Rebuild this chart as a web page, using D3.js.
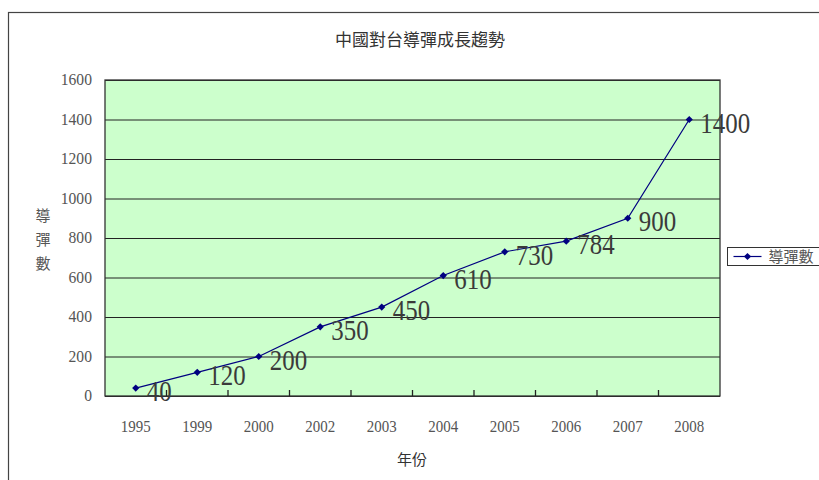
<!DOCTYPE html>
<html>
<head>
<meta charset="utf-8">
<script src="https://cdn.jsdelivr.net/npm/d3@7"></script>
<style>
  body { margin: 0; background: #fff; }
  svg { display: block; }
</style>
</head>
<body>
<div id="chart"></div>
<script>
// Data
const years = ["1995", "1999", "2000", "2002", "2003", "2004", "2005", "2006", "2007", "2008"];
const missiles = [40, 120, 200, 350, 450, 610, 730, 784, 900, 1400];
const yTicks = [0, 200, 400, 600, 800, 1000, 1200, 1400, 1600];

const width = 819, height = 480;
const margin = {top: 80, right: 99, bottom: 84, left: 105};
const plotW = width - margin.left - margin.right;
const plotH = height - margin.top - margin.bottom;

const serif = "'Liberation Serif', 'Times New Roman', serif";
const cjk = "'Noto Sans CJK TC', 'Noto Sans CJK SC', sans-serif";

const svg = d3.select("#chart").append("svg")
    .attr("width", width)
    .attr("height", height);

// Outer chart frame (runs off the right and bottom edges)
svg.append("rect")
    .attr("x", 8.5).attr("y", 12.5)
    .attr("width", 840).attr("height", 500)
    .attr("fill", "#fff")
    .attr("stroke", "#444")
    .attr("stroke-width", 1.2);

// Title
svg.append("text")
    .text("中國對台導彈成長趨勢")
    .attr("x", 420).attr("y", 46)
    .style("text-anchor", "middle")
    .style("font-family", cjk)
    .style("font-size", "17px")
    .attr("fill", "#333");

const chart = svg.append("g")
    .attr("transform", `translate(${margin.left},${margin.top})`);

// Scales
const xScale = d3.scaleBand()
    .domain(years)
    .range([0, plotW]);

const yScale = d3.scaleLinear()
    .domain([0, 1600])
    .range([plotH, 0]);

// Plot area background
chart.append("rect")
    .attr("width", plotW).attr("height", plotH)
    .attr("fill", "#ccffcc");

// Horizontal grid lines
chart.append("g")
    .call(d3.axisLeft(yScale).tickValues(yTicks).tickSize(-plotW).tickFormat(""))
    .call(g => g.select(".domain").remove())
    .selectAll(".tick line")
        .attr("stroke", "#222")
        .attr("stroke-width", 1);

// Y tick labels
chart.append("g")
    .selectAll("text")
    .data(yTicks)
    .join("text")
        .text((d) => d)
        .attr("transform", (d) => `translate(-13,${yScale(d) + 5}) scale(0.92,1)`)
        .style("text-anchor", "end")
        .style("font-family", serif)
        .style("font-size", "17px")
        .attr("fill", "#555");

// Plot border
chart.append("rect")
    .attr("width", plotW).attr("height", plotH)
    .attr("fill", "none")
    .attr("stroke", "#333")
    .attr("stroke-width", 1.3);

// X ticks at category boundaries, pointing up into the plot
const bounds = years.slice(1).map((d) => xScale(d));
chart.append("g")
    .selectAll("line")
    .data(bounds)
    .join("line")
        .attr("x1", (d) => d).attr("x2", (d) => d)
        .attr("y1", plotH).attr("y2", plotH - 6)
        .attr("stroke", "#222")
        .attr("stroke-width", 1.3);

// X tick labels
chart.append("g")
    .selectAll("text")
    .data(years)
    .join("text")
        .text((d) => d)
        .attr("transform", (d) => `translate(${xScale(d) + xScale.bandwidth() / 2},${plotH + 36}) scale(0.88,1)`)
        .style("text-anchor", "middle")
        .style("font-family", serif)
        .style("font-size", "17px")
        .attr("fill", "#555");

// Axis titles
svg.append("text")
    .text("年份")
    .attr("x", 412).attr("y", 465)
    .style("text-anchor", "middle")
    .style("font-family", cjk)
    .style("font-size", "15px")
    .attr("fill", "#333");

svg.append("g")
    .selectAll("text")
    .data(["導", "彈", "數"])
    .join("text")
        .text((d) => d)
        .attr("x", 43)
        .attr("y", (d, i) => 221 + i * 24)
        .style("text-anchor", "middle")
        .style("font-family", cjk)
        .style("font-size", "15px")
        .attr("fill", "#555");

// Line series
const points = years.map((y, i) => ({ year: y, value: missiles[i] }));
const cx = (d) => xScale(d.year) + xScale.bandwidth() / 2;

chart.append("path")
    .datum(points)
    .attr("d", d3.line().x(cx).y((d) => yScale(d.value)))
    .attr("fill", "none")
    .attr("stroke", "#000080")
    .attr("stroke-width", 1.2);

// Small square turned 45 degrees as the marker
const marker = d3.symbol().type(d3.symbolSquare).size(26);

chart.selectAll(".marker")
    .data(points)
    .join("path")
        .attr("class", "marker")
        .attr("d", marker)
        .attr("transform", (d) => `translate(${cx(d)},${yScale(d.value)}) rotate(45)`)
        .attr("fill", "#000080");

// Data labels
chart.selectAll(".value")
    .data(points)
    .join("text")
        .attr("class", "value")
        .text((d) => d.value)
        .attr("transform", (d) => `translate(${cx(d) + 11},${yScale(d.value) + 13}) scale(0.86,1)`)
        .style("font-family", serif)
        .style("font-size", "29px")
        .attr("fill", "#3a3a3a");

// Legend
const legend = svg.append("g")
    .attr("transform", "translate(727.5,247.5)");

legend.append("rect")
    .attr("width", 120).attr("height", 18)
    .attr("fill", "#fff")
    .attr("stroke", "#333")
    .attr("stroke-width", 1);

legend.append("line")
    .attr("x1", 6).attr("x2", 34)
    .attr("y1", 9).attr("y2", 9)
    .attr("stroke", "#000080")
    .attr("stroke-width", 1.2);

legend.append("path")
    .attr("d", marker)
    .attr("transform", "translate(20,9) rotate(45)")
    .attr("fill", "#000080");

legend.append("text")
    .text("導彈數")
    .attr("x", 41).attr("y", 14)
    .style("font-family", cjk)
    .style("font-size", "15px")
    .attr("fill", "#555");
</script>
</body>
</html>
